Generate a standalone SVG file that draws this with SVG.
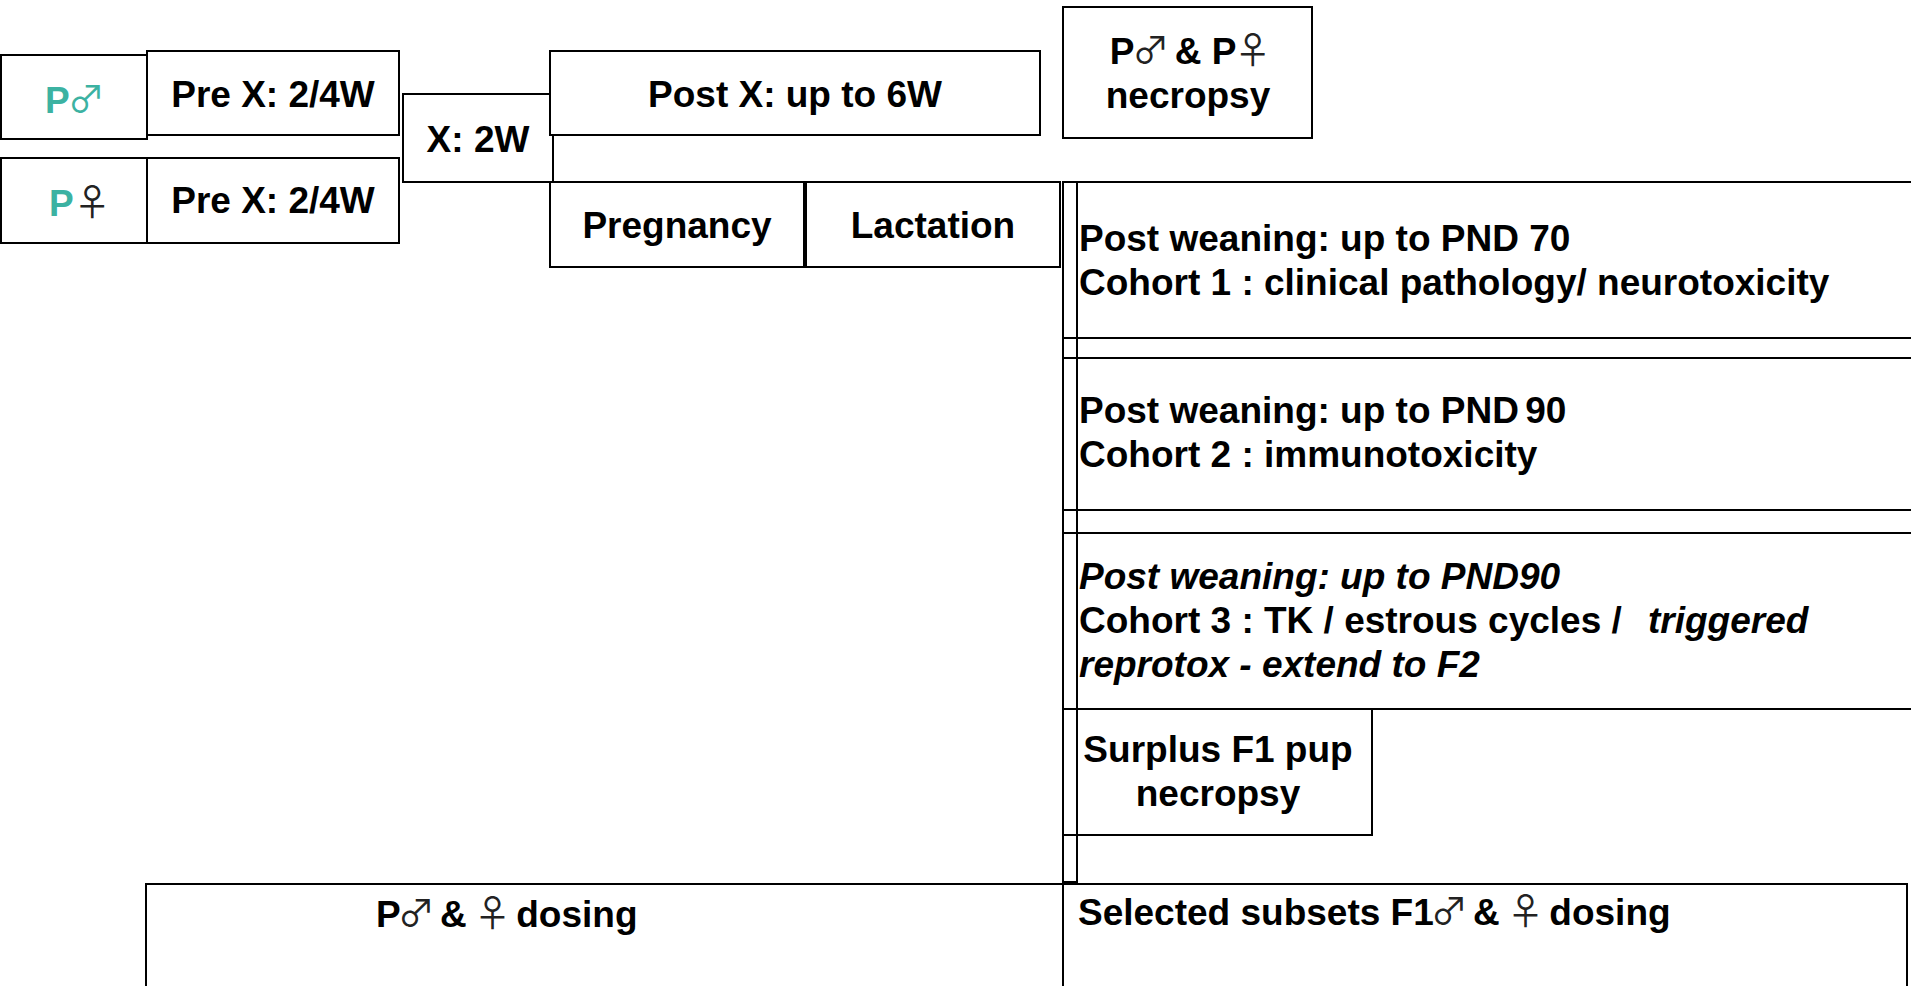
<svg xmlns="http://www.w3.org/2000/svg" width="1911" height="986" viewBox="0 0 1911 986">
<style>
.box{fill:#fff;stroke:#000;stroke-width:2}
.t{font-family:"Liberation Sans",Arial,sans-serif;font-weight:bold;font-size:37px;fill:#000}
.c{text-anchor:middle}
.sym{font-family:"Noto Sans CJK JP","DejaVu Sans",sans-serif;font-weight:normal;fill:#222;letter-spacing:-5px}
.teal{fill:#3cb2a2}
.it{font-style:italic}
</style>
<rect width="1911" height="986" fill="#fff"/>
<g id="pmale">
<rect class="box" x="1" y="55" width="146" height="84"/>
<text class="t" x="45" y="113"><tspan class="teal">P</tspan><tspan class="sym teal" dx="-2">♂</tspan></text>
</g>
<g id="prex-male">
<rect class="box" x="147" y="51" width="252" height="84"/>
<text class="t c" x="273" y="107">Pre X: 2/4W</text>
</g>
<g id="pfemale">
<rect class="box" x="1" y="158" width="146" height="85"/>
<text class="t" x="49" y="216"><tspan class="teal">P</tspan><tspan class="sym">♀</tspan></text>
</g>
<g id="prex-female">
<rect class="box" x="147" y="158" width="252" height="85"/>
<text class="t c" x="273" y="213">Pre X: 2/4W</text>
</g>
<g id="x2w">
<rect class="box" x="403" y="94" width="150" height="88"/>
<text class="t c" x="478" y="152">X: 2W</text>
</g>
<g id="postx">
<rect class="box" x="550" y="51" width="490" height="84"/>
<text class="t c" x="795" y="107">Post X: up to 6W</text>
</g>
<g id="necropsy">
<rect class="box" x="1063" y="7" width="249" height="131"/>
<text class="t c" x="1188" y="64">P<tspan class="sym" dx="-2">♂</tspan> &amp; P<tspan class="sym" dx="-2">♀</tspan></text>
<text class="t c" x="1188" y="108">necropsy</text>
</g>
<g id="pregnancy">
<rect class="box" x="550" y="182" width="254" height="85"/>
<text class="t c" x="677" y="238">Pregnancy</text>
</g>
<g id="lactation">
<rect class="box" x="806" y="182" width="254" height="85"/>
<text class="t c" x="933" y="238">Lactation</text>
</g>
<g id="cohort1">
<rect class="box" x="1063" y="182" width="860" height="156"/>
<text class="t" x="1079" y="251">Post weaning: up to PND 70</text>
<text class="t" x="1079" y="295">Cohort 1 : clinical pathology/ neurotoxicity</text>
</g>
<g id="cohort2">
<rect class="box" x="1063" y="358" width="860" height="152"/>
<text class="t" x="1079" y="423">Post weaning: up to PND <tspan dx="-4">90</tspan></text>
<text class="t" x="1079" y="467">Cohort 2 : immunotoxicity</text>
</g>
<g id="cohort3">
<rect class="box" x="1063" y="533" width="860" height="176"/>
<text class="t it" x="1079" y="589">Post weaning: up to PND90</text>
<text class="t" x="1079" y="633">Cohort 3 : TK / estrous cycles / <tspan class="it" x="1648">triggered</tspan></text>
<text class="t it" x="1079" y="677">reprotox - extend to F2</text>
</g>
<g id="surplus">
<rect class="box" x="1063" y="709" width="309" height="126"/>
<text class="t c" x="1218" y="762">Surplus F1 pup</text>
<text class="t c" x="1218" y="806">necropsy</text>
</g>
<g id="strip">
<rect x="1063" y="182" width="14" height="700" fill="none" stroke="#000" stroke-width="2"/>
</g>
<g id="pdosing">
<rect class="box" x="146" y="884" width="917" height="120"/>
<text class="t" x="376" y="927">P<tspan class="sym" dx="-3">♂</tspan> &amp; <tspan class="sym" dx="-3">♀</tspan> dosing</text>
</g>
<g id="f1dosing">
<rect class="box" x="1063" y="884" width="844" height="120"/>
<text class="t" x="1078" y="925">Selected subsets F1<tspan class="sym" dx="-3">♂</tspan> &amp; <tspan class="sym" dx="-3">♀</tspan> dosing</text>
</g>
<g id="connectors"></g>
</svg>
